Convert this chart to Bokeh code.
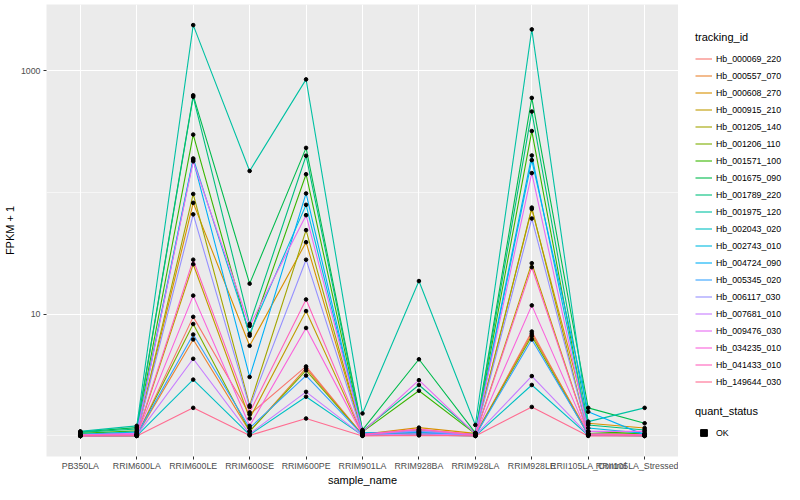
from bokeh.plotting import figure
from bokeh.layouts import row
from bokeh.models import (FixedTicker, Legend, LegendItem, Range1d,
                          PrintfTickFormatter)
from bokeh.embed import file_html
from bokeh.resources import INLINE

samples = ["PB350LA", "RRIM600LA", "RRIM600LE", "RRIM600SE", "RRIM600PE",
           "RRIM901LA", "RRIM928BA", "RRIM928LA", "RRIM928LE",
           "RRII105LA_Control", "RRII105LA_Stressed"]

tracking_ids = ["Hb_000069_220", "Hb_000557_070", "Hb_000608_270", "Hb_000915_210",
                "Hb_001205_140", "Hb_001206_110", "Hb_001571_100", "Hb_001675_090",
                "Hb_001789_220", "Hb_001975_120", "Hb_002043_020", "Hb_002743_010",
                "Hb_004724_090", "Hb_005345_020", "Hb_006117_030", "Hb_007681_010",
                "Hb_009476_030", "Hb_034235_010", "Hb_041433_010", "Hb_149644_030"]

# FPKM + 1 per sample (same order as samples)
hb_000069_220 = [1.00, 1.00, 9.5, 1.5, 3.72, 1.02, 1.03, 1.00, 7.2, 1.02, 1.00]
hb_000557_070 = [1.01, 1.01, 6.2, 1.09, 3.6, 1.02, 1.12, 1.03, 6.9, 1.05, 1.03]
hb_000608_270 = [1.01, 1.02, 82, 5.5, 39, 1.03, 1.17, 1.05, 73, 1.27, 1.16]
hb_000915_210 = [1.00, 1.01, 25.7, 1.39, 10.6, 1.02, 1.10, 1.02, 26.2, 1.03, 1.02]
hb_001205_140 = [1.01, 1.02, 97, 1.78, 49, 1.03, 1.07, 1.03, 75, 1.04, 1.02]
hb_001206_110 = [1.00, 1.01, 8.3, 1.09, 3.45, 1.02, 1.05, 1.02, 6.6, 1.02, 1.01]
hb_001571_100 = [1.05, 1.10, 298, 6.65, 141, 1.08, 2.35, 1.04, 319, 1.09, 1.04]
hb_001675_090 = [1.08, 1.17, 627, 17.8, 232, 1.12, 4.26, 1.06, 597, 1.70, 1.27]
hb_001789_220 = [1.07, 1.14, 610, 8.3, 200, 1.10, 2.62, 1.05, 461, 1.23, 1.12]
hb_001975_120 = [1.09, 1.21, 2365, 150, 847, 1.53, 18.7, 1.23, 2180, 1.31, 1.70]
hb_002043_020 = [1.00, 1.00, 2.9, 1.02, 2.1, 1.01, 1.02, 1.00, 2.62, 1.01, 1.00]
hb_002743_010 = [1.03, 1.08, 190, 6.9, 79, 1.06, 1.08, 1.03, 201, 1.16, 1.05]
hb_004724_090 = [1.02, 1.06, 185, 3.05, 98, 1.05, 1.06, 1.02, 184, 1.58, 1.02]
hb_005345_020 = [1.00, 1.02, 6.8, 1.16, 3.13, 1.02, 1.09, 1.01, 6.2, 1.03, 1.01]
hb_006117_030 = [1.01, 1.03, 66, 1.73, 28, 1.03, 1.10, 1.02, 61, 1.04, 1.02]
hb_007681_010 = [1.00, 1.01, 4.3, 1.04, 2.3, 1.01, 1.04, 1.01, 3.1, 1.02, 1.01]
hb_009476_030 = [1.02, 1.05, 180, 8.0, 65, 1.08, 2.87, 1.04, 144, 1.09, 1.09]
hb_034235_010 = [1.00, 1.02, 14.2, 1.21, 7.7, 1.02, 1.13, 1.02, 11.8, 1.03, 1.02]
hb_041433_010 = [1.01, 1.02, 28, 1.56, 13.2, 1.03, 1.14, 1.02, 24.3, 1.03, 1.02]
hb_149644_030 = [1.00, 1.00, 1.7, 1.01, 1.39, 1.00, 1.01, 1.00, 1.73, 1.00, 1.00]

series_values = [hb_000069_220, hb_000557_070, hb_000608_270, hb_000915_210,
                 hb_001205_140, hb_001206_110, hb_001571_100, hb_001675_090,
                 hb_001789_220, hb_001975_120, hb_002043_020, hb_002743_010,
                 hb_004724_090, hb_005345_020, hb_006117_030, hb_007681_010,
                 hb_009476_030, hb_034235_010, hb_041433_010, hb_149644_030]

palette = ["#F8766D", "#EA8331", "#D89000", "#C09B00", "#A3A500", "#7CAE00",
           "#39B600", "#00BB4E", "#00BF7D", "#00C1A3", "#00BFC4", "#00BAE0",
           "#00B0F6", "#35A2FF", "#9590FF", "#C77CFF", "#E76BF3", "#FA62DB",
           "#FF62BC", "#FF6C91"]

y_ticks = [10, 1000]
y_minor = [1, 100]
quant_status = "OK"

FONT = "Liberation Sans"

x_pos = list(range(1, len(samples) + 1))

FRAME_W, FRAME_H = 632, 452
BORDER_L, BORDER_T, BORDER_R, BORDER_B = 40, 4, 0, 28
TOTAL_H = BORDER_T + FRAME_H + BORDER_B
MAIN_W = BORDER_L + FRAME_W + BORDER_R
LEG_W = 784 - MAIN_W
PT_SIZE = 3.6

p = figure(frame_width=FRAME_W, frame_height=FRAME_H,
           min_border_left=BORDER_L, min_border_right=BORDER_R,
           min_border_top=BORDER_T, min_border_bottom=BORDER_B,
           output_backend="svg", toolbar_location=None,
           y_axis_type="log",
           x_range=Range1d(0.4, len(samples) + 0.6),
           y_range=Range1d(10 ** -0.169, 10 ** 3.543))

p.background_fill_color = "#EBEBEB"
p.border_fill_color = "white"
p.outline_line_color = None

# axes
p.xaxis.ticker = FixedTicker(ticks=x_pos)
p.xaxis.major_label_overrides = {i: s for i, s in zip(x_pos, samples)}
p.yaxis.ticker = FixedTicker(ticks=y_ticks, minor_ticks=y_minor)
p.yaxis.formatter = PrintfTickFormatter(format="%d")

for ax in (p.xaxis, p.yaxis):
    ax.axis_line_color = None
    ax.major_tick_line_color = "#333333"
    ax.major_tick_out = 3
    ax.major_tick_in = 0
    ax.minor_tick_line_color = None
    ax.major_label_text_font = FONT
    ax.major_label_text_font_size = "8.8px"
    ax.major_label_text_color = "#4D4D4D"
    ax.major_label_standoff = 2
    ax.axis_label_text_font = FONT
    ax.axis_label_text_font_size = "11px"
    ax.axis_label_text_font_style = "normal"
    ax.axis_label_text_color = "black"
    ax.axis_label_standoff = 2

p.xaxis.major_label_standoff = 1
p.xaxis.axis_label_standoff = 0
p.xaxis.axis_label = "sample_name"
p.yaxis.axis_label = "FPKM + 1"

p.xgrid.grid_line_color = "white"
p.xgrid.grid_line_width = 1.1
p.ygrid.grid_line_color = "white"
p.ygrid.grid_line_width = 1.1
p.ygrid.minor_grid_line_color = "white"
p.ygrid.minor_grid_line_width = 0.55

# lines
for vals, col in zip(series_values, palette):
    p.line(x_pos, vals, line_color=col, line_width=1.1)

# points
all_x = [x for vals in series_values for x in x_pos]
all_y = [v for vals in series_values for v in vals]
p.scatter(all_x, all_y, marker="circle", size=PT_SIZE, color="black")

# ---- legend panel (separate figure to the right, frame aligned with p) ----
lf = figure(frame_width=LEG_W, frame_height=FRAME_H,
            min_border_left=0, min_border_right=0,
            min_border_top=BORDER_T, min_border_bottom=BORDER_B,
            output_backend="svg", toolbar_location=None,
            x_axis_location=None, y_axis_location=None,
            x_range=Range1d(100, 101), y_range=Range1d(100, 101))
lf.background_fill_color = "white"
lf.border_fill_color = "white"
lf.outline_line_color = None
lf.grid.visible = False

# legend key renderers: the same series, drawn outside this figure's view
key_lines = [lf.line(x_pos, vals, line_color=col, line_width=1.1)
             for vals, col in zip(series_values, palette)]
key_pt = lf.scatter(all_x, all_y, marker="square", size=PT_SIZE, color="black")

KEY = 17
TITLE_H = 12
TITLE_GAP = 7
LEG_X = 17
frame_bottom = BORDER_T + FRAME_H


def legend_loc(top_y, n_items):
    height = TITLE_H + TITLE_GAP + n_items * KEY
    return (LEG_X, frame_bottom - (top_y + height))


leg1 = Legend(items=[LegendItem(label=t, renderers=[r])
                     for t, r in zip(tracking_ids, key_lines)],
              title="tracking_id", location=legend_loc(31, len(tracking_ids)))
leg2 = Legend(items=[LegendItem(label=quant_status, renderers=[key_pt])],
              title="quant_status", location=legend_loc(405, 1))

for leg in (leg1, leg2):
    leg.margin = 0
    leg.padding = 0
    leg.spacing = 0
    leg.border_line_color = None
    leg.background_fill_alpha = 0
    leg.glyph_width = KEY
    leg.glyph_height = KEY
    leg.label_height = KEY
    leg.label_standoff = 4
    leg.label_text_font = FONT
    leg.label_text_font_size = "8.8px"
    leg.label_text_color = "black"
    leg.title_text_font = FONT
    leg.title_text_font_size = "11px"
    leg.title_text_font_style = "normal"
    leg.title_text_color = "black"
    leg.title_standoff = TITLE_GAP
    lf.add_layout(leg)

layout = row(p, lf, spacing=0)
open("out.html", "w").write(file_html(layout, INLINE))
